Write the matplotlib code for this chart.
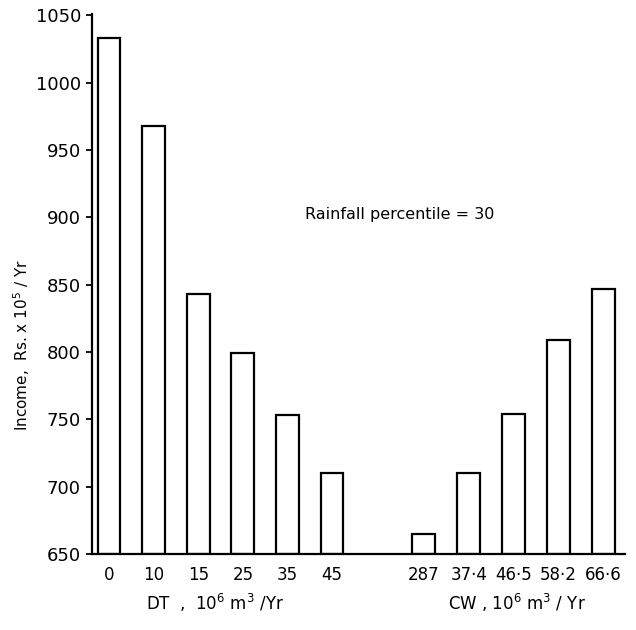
import numpy as np
import matplotlib
matplotlib.use("Agg")
import matplotlib.pyplot as plt

# DT group (10^6 m^3/Yr) and CW group (10^6 m^3/Yr), income in Rs. x 10^5/Yr
dt_labels = ["0", "10", "15", "25", "35", "45"]
dt_income = [1033, 968, 843, 799, 753, 710]
cw_labels = ["287", "37·4", "46·5", "58·2", "66·6"]
cw_income = [665, 710, 754, 809, 847]

y_ticks = [650, 700, 750, 800, 850, 900, 950, 1000, 1050]

plt.rcParams["font.family"] = ["DejaVu Sans"]

fig = plt.figure(figsize=(6.36, 6.30), dpi=100)
ax = fig.add_axes([92 / 636, 1 - 554 / 630, (625 - 92) / 636, (554 - 14) / 630])

dt_x = np.arange(len(dt_labels)) * 1.02
cw_x = 7.2 + np.arange(len(cw_labels)) * 1.025
bottom = 650

ax.bar(dt_x, np.array(dt_income) - bottom, bottom=bottom, width=0.52,
       facecolor="white", edgecolor="black", linewidth=1.6)
ax.bar(cw_x, np.array(cw_income) - bottom, bottom=bottom, width=0.52,
       facecolor="white", edgecolor="black", linewidth=1.6)

ax.set_xlim(-0.39, 11.8)
ax.set_ylim(650, 1051)
ax.set_yticks(y_ticks)
ax.set_yticklabels([str(v) for v in y_ticks], fontsize=13)
ax.set_xticks(list(dt_x) + list(cw_x))
ax.set_xticklabels(dt_labels + cw_labels, fontsize=12)
ax.tick_params(axis="x", length=0, pad=9)
ax.tick_params(axis="y", direction="out", length=4, width=1.3, pad=4)

for s in ["top", "right"]:
    ax.spines[s].set_visible(False)
for s in ["left", "bottom"]:
    ax.spines[s].set_linewidth(1.6)

fig.text(22 / 636, 1 - 345 / 630, r"Income,  Rs. x 10$^5$ / Yr", rotation=90,
         ha="center", va="center", fontsize=11)
fig.text(215 / 636, 1 - 603 / 630, r"DT  ,  10$^{6}$ m$^{3}$ /Yr",
         ha="center", va="center", fontsize=12)
fig.text(517 / 636, 1 - 603 / 630, r"CW , 10$^{6}$ m$^{3}$ / Yr",
         ha="center", va="center", fontsize=12)
fig.text(400 / 636, 1 - 215 / 630, "Rainfall percentile = 30",
         ha="center", va="center", fontsize=11.5)

fig.savefig("out.png", dpi=100)
